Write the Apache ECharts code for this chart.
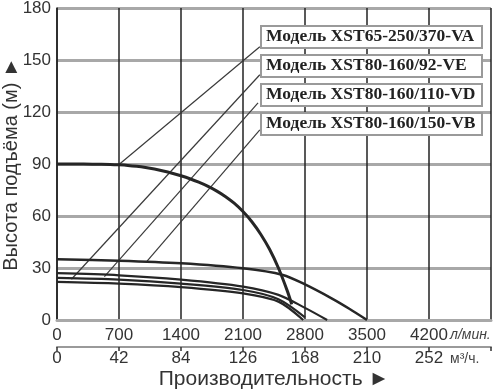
<!DOCTYPE html>
<html><head><meta charset="utf-8">
<script src="https://cdn.jsdelivr.net/npm/echarts@6/dist/echarts.min.js"></script>
<style>html,body{margin:0;padding:0;background:#fff}#c{width:502px;height:392px}</style>
</head><body><div id="c"></div>
<script>
// ---- data ----
const flowTicksLmin = [0, 700, 1400, 2100, 2800, 3500, 4200];
const flowTicksM3h = [0, 42, 84, 126, 168, 210, 252];
const headTicks = [0, 30, 60, 90, 120, 150, 180];

const modelNames = ['Модель XST65-250/370-VA', 'Модель XST80-160/92-VE', 'Модель XST80-160/110-VD', 'Модель XST80-160/150-VB'];

const vaFlow = [0, 200, 400, 600, 700, 800, 900, 1000, 1100, 1200, 1300, 1400, 1500, 1600, 1700, 1800, 1900, 2000, 2100, 2200, 2300, 2400, 2500, 2600, 2650];
const vaHead = [90, 90, 89.9, 89.7, 89.5, 89.2, 88.7, 88.0, 87.1, 86.0, 84.7, 83.2, 81.5, 79.5, 77.2, 74.5, 71.3, 67.4, 62.6, 56.7, 49.5, 40.8, 30.0, 16.8, 9.0];

const vbFlow = [0, 700, 1400, 2100, 2550, 2800, 3100, 3300, 3500];
const vbHead = [35, 34.2, 32.7, 29.8, 26, 20.5, 12.5, 6.5, 0];

const vdFlow = [0, 700, 1400, 2100, 2500, 2800, 3050];
const vdHead = [27, 25.8, 23.3, 19.3, 14.5, 7, 0];

const veFlow = [0, 700, 1400, 2100, 2500, 2800];
const veHead = [24.3, 23.3, 21, 17.3, 12, 1.5];

const vcFlow = [0, 700, 1400, 2100, 2500, 2780];
const vcHead = [22, 21, 19, 15.4, 10.6, 0];

// leader lines: [flow, head] start (at label box) and end (on curve)
const leaderStartFlow = [2290, 2290, 2270, 2290];
const leaderStartHead = [157.6, 141.5, 125.3, 109.7];
const leaderEndFlow = [690, 163, 535, 1017];
const leaderEndHead = [89.3, 23.5, 25, 34];

function pairs(xs, ys) { return xs.map((x, i) => [x, ys[i]]); }

const chart = echarts.init(document.getElementById('c'), null, {renderer: 'canvas'});
const FONT = 'Liberation Sans, Arial, sans-serif';
const curveStyle = (w) => ({color: '#262626', width: w});
const curve = (xs, ys, w) => ({type: 'line', data: pairs(xs, ys), smooth: 0.3,
  symbol: 'none', lineStyle: curveStyle(w), z: 5});

const series = [
  curve(vaFlow, vaHead, 3),
  curve(vbFlow, vbHead, 2.5),
  curve(vdFlow, vdHead, 2.2),
  curve(veFlow, veHead, 2.2),
  curve(vcFlow, vcHead, 2.2)
];
for (let i = 0; i < leaderStartFlow.length; i++) {
  series.push({type: 'line', data: [[leaderStartFlow[i], leaderStartHead[i]], [leaderEndFlow[i], leaderEndHead[i]]],
    symbol: 'none', lineStyle: {color: '#3a3a3a', width: 1.2}, z: 4});
}

const boxTops = [25, 54, 83, 112];
const graphics = [];
boxTops.forEach((t, i) => {
  graphics.push({type: 'rect', left: 260, top: t, z: 100,
    shape: {width: 221, height: 22}, style: {fill: '#fff', stroke: '#9a9a9a', lineWidth: 2}});
  graphics.push({type: 'text', left: 266, top: t + 2, z: 101,
    style: {text: modelNames[i], font: 'bold 17.5px "Liberation Serif", "Times New Roman", serif', fill: '#222'}});
});
graphics.push({type: 'text', left: 450, top: 328, z: 101,
  style: {text: 'л/мин.', font: 'italic 14px ' + FONT, fill: '#444'}});
graphics.push({type: 'text', left: 450, top: 352, z: 101,
  style: {text: 'м³/ч.', font: '14px ' + FONT, fill: '#444'}});

chart.setOption({
  animation: false,
  backgroundColor: '#fff',
  grid: {left: 57, right: 11, top: 8, bottom: 72, containLabel: false, outerBoundsMode: 'none'},
  xAxis: [
    {type: 'value', min: 0, max: 4900, interval: 700, position: 'bottom',
      axisLine: {show: true, lineStyle: {color: '#a8a8a8', width: 3}},
      axisTick: {show: false},
      axisLabel: {fontSize: 17, color: '#333', fontFamily: FONT, margin: 7,
        formatter: v => flowTicksLmin.includes(v) ? String(v) : ''},
      splitLine: {show: true, lineStyle: {color: '#222', width: 1.5}}},
    {type: 'value', min: 0, max: 294, interval: 42, position: 'bottom', offset: 27,
      axisLine: {show: true, lineStyle: {color: '#9a9a9a', width: 2}},
      axisTick: {show: true, length: 4, lineStyle: {color: '#333', width: 1.5}},
      axisLabel: {fontSize: 17, color: '#333', fontFamily: FONT, margin: 3,
        formatter: v => flowTicksM3h.includes(v) ? String(v) : ''},
      splitLine: {show: false},
      name: 'Производительность ►', nameLocation: 'middle', nameGap: 22, nameMoveOverlap: false,
      nameTextStyle: {fontSize: 21, color: '#333', fontFamily: FONT}}
  ],
  yAxis: {type: 'value', min: 0, max: 180, interval: 30,
    axisLine: {show: true, lineStyle: {color: '#222', width: 1.5}},
    axisTick: {show: false},
    axisLabel: {fontSize: 17, color: '#333', fontFamily: FONT, margin: 6,
      formatter: v => headTicks.includes(v) ? String(v) : ''},
    splitLine: {show: true, lineStyle: {color: '#a8a8a8', width: 3}},
    name: 'Высота подъёма (м) ►', nameLocation: 'middle', nameGap: 36, nameRotate: 90, nameMoveOverlap: false,
    nameTextStyle: {fontSize: 20, color: '#333', fontFamily: FONT}},
  series: series,
  graphic: graphics
});
</script></body></html>
